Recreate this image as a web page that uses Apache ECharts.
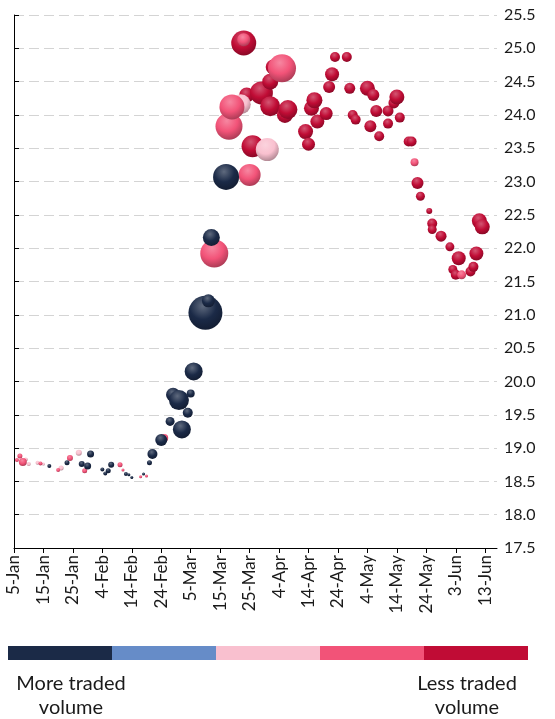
<!DOCTYPE html>
<html>
<head>
<meta charset="utf-8">
<script src="https://cdn.jsdelivr.net/npm/echarts@6/dist/echarts.min.js"></script>
<style>
html, body { margin: 0; padding: 0; background: #fff; }
#chart { width: 555px; height: 719px; }
</style>
</head>
<body>
<div id="chart"></div>
<script>
// days counted from 5-Jan-2020
const startDate = Date.UTC(2020, 0, 5);
const monthNames = ['Jan', 'Feb', 'Mar', 'Apr', 'May', 'Jun', 'Jul', 'Aug', 'Sep', 'Oct', 'Nov', 'Dec'];

const dayIndex = [
    1, 2, 3, 4, 5, 8, 9, 10, 12, 15,
    16, 18, 19, 22, 23, 24, 25, 26, 30, 31,
    32, 33, 36, 37, 38, 39, 40, 43, 44, 45,
    46, 47, 50, 51, 53, 54, 56, 57, 59, 60,
    61, 65, 66, 67, 68, 72, 73, 74, 77, 78,
    78, 79, 80, 81, 84, 86, 87, 87, 88, 91,
    92, 93, 99, 100, 101, 102, 103, 106, 107, 108,
    109, 113, 114, 115, 116, 120, 121, 122, 123, 124,
    127, 127, 129, 130, 131, 134, 135, 136, 137, 138,
    141, 142, 142, 145, 148, 149, 150, 151, 152, 155,
    156, 157, 158, 159
];
const prices = [
    18.82, 18.88, 18.79, 18.83, 18.76, 18.78, 18.77, 18.76, 18.73, 18.67,
    18.70, 18.78, 18.85, 18.93, 18.76, 18.66, 18.73, 18.91, 18.68, 18.62,
    18.66, 18.75, 18.75, 18.67, 18.61, 18.60, 18.56, 18.57, 18.61, 18.58,
    18.78, 18.91, 19.12, 19.15, 19.40, 19.80, 19.72, 19.28, 19.53, 19.82,
    20.15, 21.03, 21.21, 22.16, 21.92, 23.07, 23.83, 24.12, 24.16, 25.08,
    25.13, 24.30, 23.10, 23.53, 24.33, 23.48, 24.50, 24.13, 24.72, 24.70,
    24.00, 24.08, 23.75, 23.56, 24.10, 24.22, 23.90, 24.02, 24.42, 24.61,
    24.87, 24.87, 24.40, 24.00, 23.93, 24.40, 23.83, 24.30, 24.06, 23.68,
    23.87, 24.06, 24.18, 24.27, 23.96, 23.60, 23.60, 23.29, 22.98, 22.78,
    22.56, 22.37, 22.28, 22.18, 22.02, 21.68, 21.60, 21.85, 21.60, 21.65,
    21.72, 21.92, 22.41, 22.32
];
const bubbleSizes = [
    4, 5, 8, 4, 4, 4, 4, 3, 4, 4,
    5, 5, 6, 6, 6, 5, 7, 7, 4, 4,
    5, 6, 5, 3, 4, 3, 3, 3, 3, 3,
    5, 10, 12, 8, 9, 14, 20, 18, 10, 8,
    18, 34, 13, 17, 28, 26, 27, 25, 20, 25,
    13, 15, 22, 22, 23, 23, 16, 20, 15, 28,
    16, 19, 15, 13, 15, 16, 14, 13, 12, 14,
    10, 10, 11, 10, 10, 15, 12, 12, 12, 10,
    10, 11, 11, 15, 10, 10, 10, 8, 12, 9,
    6, 10, 9, 11, 9, 9, 10, 14, 9, 10,
    10, 14, 15, 15
];
// 0 = most traded ... 4 = least traded
const volumeBand = [
    3, 3, 3, 2, 2, 2, 3, 2, 0, 3,
    2, 0, 3, 2, 0, 3, 0, 0, 0, 0,
    0, 0, 3, 3, 0, 0, 0, 3, 0, 3,
    0, 0, 0, 3, 0, 0, 0, 0, 0, 0,
    0, 0, 0, 0, 3, 0, 3, 3, 2, 4,
    3, 4, 3, 4, 4, 2, 4, 4, 4, 3,
    4, 4, 4, 4, 4, 4, 4, 4, 4, 4,
    4, 4, 4, 4, 4, 4, 4, 4, 4, 4,
    4, 4, 4, 4, 4, 4, 4, 3, 4, 4,
    4, 4, 4, 4, 4, 4, 4, 4, 3, 4,
    4, 4, 4, 4
];
const bandColors = ['#1B2A47', '#668CC8', '#F9C0CF', '#F25378', '#C00C35'];
const legendTexts = ['More traded\nvolume', 'Less traded\nvolume'];

function mix(hex, target, t) {
    let n = parseInt(hex.slice(1), 16);
    let c = [(n >> 16) & 255, (n >> 8) & 255, n & 255].map(v => Math.round(v + (target - v) * t));
    return 'rgb(' + c.join(',') + ')';
}

function ball(hex) {
    return {
        type: 'radial', x: 0.42, y: 0.3, r: 0.72,
        colorStops: [
            { offset: 0, color: mix(hex, 255, 0.3) },
            { offset: 0.55, color: hex },
            { offset: 1, color: mix(hex, 0, 0.3) }
        ]
    };
}

function dayLabel(v) {
    if (v % 10 !== 0) return '';
    let d = new Date(startDate + v * 86400000);
    return d.getUTCDate() + '-' + monthNames[d.getUTCMonth()];
}

let chart = echarts.init(document.getElementById('chart'));

// crimson first, navy on top
let drawOrder = [4, 2, 3, 1, 0];
let series = drawOrder.map(b => {
    let pts = [];
    for (let i = 0; i < dayIndex.length; i++) {
        if (volumeBand[i] === b) pts.push([dayIndex[i], prices[i], bubbleSizes[i]]);
    }
    return {
        type: 'scatter',
        data: pts,
        symbolSize: v => v[2],
        itemStyle: { color: ball(bandColors[b]), opacity: 1 },
        emphasis: { disabled: true }
    };
});

let graphic = bandColors.map((c, i) => ({
    type: 'rect',
    shape: { x: 8 + i * 104, y: 646, width: 104, height: 14 },
    style: { fill: c }
}));
graphic.push({
    type: 'text',
    style: { text: legendTexts[0], x: 71, y: 672, textAlign: 'center', fill: '#1a1a1a', font: '20px Lato', lineHeight: 24 }
});
graphic.push({
    type: 'text',
    style: { text: legendTexts[1], x: 467, y: 672, textAlign: 'center', fill: '#1a1a1a', font: '20px Lato', lineHeight: 24 }
});

let option = {
    animation: false,
    textStyle: { fontFamily: 'Lato' },
    grid: { left: 14, right: 58, top: 15, bottom: 171, containLabel: false, outerBoundsMode: 'none' },
    xAxis: {
        type: 'value',
        min: 0,
        max: 164,
        interval: 10,
        axisLine: { show: true, lineStyle: { color: '#000', width: 1 } },
        axisTick: { show: true, length: 5, lineStyle: { color: '#000' } },
        splitLine: { show: false },
        axisLabel: {
            rotate: 90,
            margin: 7,
            color: '#1a1a1a',
            fontSize: 17,
            fontFamily: 'Lato',
            showMaxLabel: false,
            formatter: dayLabel
        }
    },
    yAxis: {
        type: 'value',
        position: 'right',
        min: 17.5,
        max: 25.5,
        interval: 0.5,
        axisLine: { show: true, lineStyle: { color: '#000', width: 1 } },
        axisTick: { show: true, length: 5, lineStyle: { color: '#000' } },
        splitLine: { show: true, lineStyle: { color: '#d4d4d4', width: 1, type: [10, 5] } },
        axisLabel: {
            margin: 7,
            color: '#1a1a1a',
            fontSize: 16,
            fontFamily: 'Lato',
            formatter: v => v.toFixed(1)
        }
    },
    series: series,
    graphic: graphic
};
chart.setOption(option);
</script>
</body>
</html>
